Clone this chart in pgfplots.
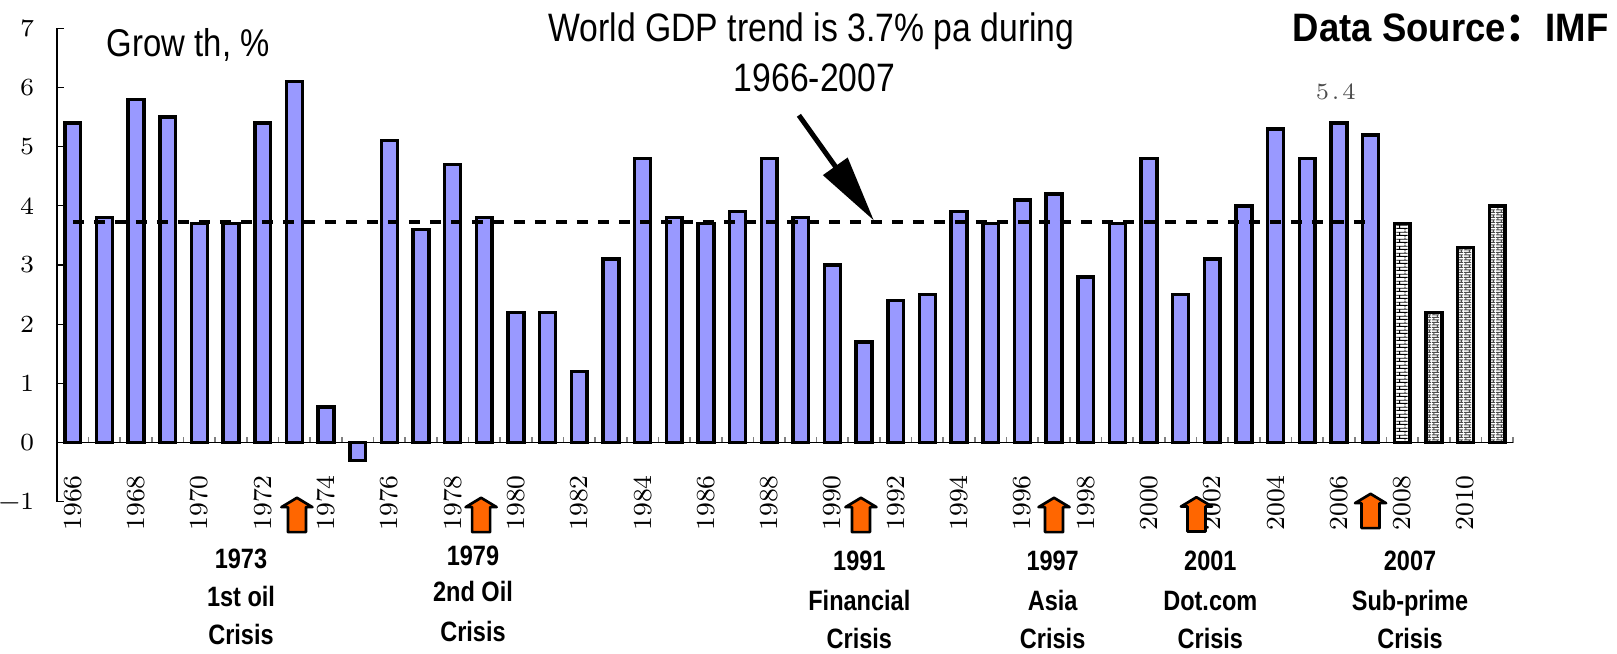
\documentclass[border=0pt]{standalone}
\usepackage{fontspec}
\setmainfont{Liberation Sans}
\newfontfamily\titlefont[FakeStretch=0.85]{Liberation Sans}
\newfontfamily\srcfont[FakeStretch=0.92]{Liberation Sans}
\newfontfamily\lblfont[FakeStretch=0.84]{Liberation Sans}
\newfontfamily\cjk{Noto Sans CJK SC}
\newfontfamily\tickfont[LetterSpace=12]{Latin Modern Roman}
\newfontfamily\tickfontY{Latin Modern Roman}
\usepackage{pgfplots}
\usepackage{pgfplotstable}
\pgfplotsset{compat=1.18}
\usetikzlibrary{patterns,arrows.meta}
\definecolor{barblue}{HTML}{9999FF}
\definecolor{crisisorange}{HTML}{FF6600}

\pgfdeclarepatternformonly{finebricks}{\pgfpointorigin}{\pgfqpoint{3.2pt}{2pt}}{\pgfqpoint{3.2pt}{2pt}}{%
  \pgfsetlinewidth{0.3pt}%
  \pgfpathmoveto{\pgfqpoint{0pt}{0.5pt}}\pgfpathlineto{\pgfqpoint{3.2pt}{0.5pt}}%
  \pgfpathmoveto{\pgfqpoint{0pt}{1.5pt}}\pgfpathlineto{\pgfqpoint{3.2pt}{1.5pt}}%
  \pgfpathmoveto{\pgfqpoint{0.8pt}{0.5pt}}\pgfpathlineto{\pgfqpoint{0.8pt}{1.5pt}}%
  \pgfpathmoveto{\pgfqpoint{2.4pt}{1.5pt}}\pgfpathlineto{\pgfqpoint{2.4pt}{2pt}}%
  \pgfpathmoveto{\pgfqpoint{2.4pt}{0pt}}\pgfpathlineto{\pgfqpoint{2.4pt}{0.5pt}}%
  \pgfusepath{stroke}}
\pgfdeclarepatternformonly{finewave}{\pgfpointorigin}{\pgfqpoint{2.4pt}{1.6pt}}{\pgfqpoint{2.4pt}{1.6pt}}{%
  \pgfsetlinewidth{0.35pt}%
  \pgfpathmoveto{\pgfqpoint{0pt}{0.4pt}}\pgfpathlineto{\pgfqpoint{2.4pt}{0.4pt}}%
  \pgfpathmoveto{\pgfqpoint{0pt}{1.2pt}}\pgfpathlineto{\pgfqpoint{2.4pt}{1.2pt}}%
  \pgfpathmoveto{\pgfqpoint{0.6pt}{0.4pt}}\pgfpathlineto{\pgfqpoint{0.6pt}{1.2pt}}%
  \pgfpathmoveto{\pgfqpoint{1.8pt}{1.2pt}}\pgfpathlineto{\pgfqpoint{1.8pt}{1.6pt}}%
  \pgfpathmoveto{\pgfqpoint{1.8pt}{0pt}}\pgfpathlineto{\pgfqpoint{1.8pt}{0.4pt}}%
  \pgfusepath{stroke}}

% x = year - 1966
\pgfplotstableread{
x year g
0 1966 5.4
1 1967 3.8
2 1968 5.8
3 1969 5.5
4 1970 3.7
5 1971 3.7
6 1972 5.4
7 1973 6.1
8 1974 0.6
9 1975 -0.3
10 1976 5.1
11 1977 3.6
12 1978 4.7
13 1979 3.8
14 1980 2.2
15 1981 2.2
16 1982 1.2
17 1983 3.1
18 1984 4.8
19 1985 3.8
20 1986 3.7
21 1987 3.9
22 1988 4.8
23 1989 3.8
24 1990 3.0
25 1991 1.7
26 1992 2.4
27 1993 2.5
28 1994 3.9
29 1995 3.7
30 1996 4.1
31 1997 4.2
32 1998 2.8
33 1999 3.7
34 2000 4.8
35 2001 2.5
36 2002 3.1
37 2003 4.0
38 2004 5.3
39 2005 4.8
40 2006 5.4
41 2007 5.2
}\hist
\pgfplotstableread{
x year g
42 2008 3.7
}\fcA
\pgfplotstableread{
x year g
43 2009 2.2
44 2010 3.3
45 2011 4.0
}\fcB

\newcommand\uparr[2]{\draw[fill=crisisorange, draw=black, line width=0.8pt, line join=round]
  (axis cs:#1,#2) -- ++(4.65pt,-2.8pt) -- ++(-1.95pt,0pt) -- ++(0pt,-7.5pt) -- ++(-5.4pt,0pt)
  -- ++(0pt,7.5pt) -- ++(-1.95pt,0pt) -- cycle;}

\begin{document}
\begin{tikzpicture}
\useasboundingbox (0pt,0pt) rectangle (485.1pt,195.9pt);
\begin{axis}[
  at={(17.1pt,45.39pt)}, anchor=south west,
  scale only axis, width=436.8pt, height=142.02pt,
  xmin=-0.5, xmax=45.5, ymin=-1, ymax=7,
  axis y line=left, axis x line=middle,
  axis line style={-, black, line width=0.5pt},
  hide obscured x ticks=false, hide obscured y ticks=false,
  clip=false,
  ybar, bar width=0.5, bar shift=0pt,
  ytick={-1,0,...,7},
  yticklabel={\pgfmathtruncatemacro\v{\tick}\ifnum\v<0 −\the\numexpr-\v\relax\else\v\fi},
  xtick={0,2,...,44},
  xticklabel={\pgfmathtruncatemacro\yr{\tick+1966}\yr},
  minor xtick={-0.5,0.5,...,45.5},
  tick align=inside,
  major tick length=2pt, minor tick length=1.6pt,
  major x tick style={draw=none},
  minor x tick style={gray, line width=0.5pt},
  ytick style={black, line width=0.4pt},
  xticklabel style={font=\tickfontY\fontsize{7.8}{9}\selectfont, black, yshift=-6.3pt, rotate=90, anchor=east},
  yticklabel style={font=\tickfontY\fontsize{7.4}{8}\selectfont, black, xshift=-3.3pt},
]
\addplot[fill=barblue, draw=black, line width=1.05pt] table[x=x,y=g] {\hist};
\addplot[pattern=finebricks, draw=black, line width=1.05pt] table[x=x,y=g] {\fcA};
\addplot[pattern=finewave, pattern color=black!70, draw=black, line width=1.05pt] table[x=x,y=g] {\fcB};
\addplot[sharp plot, black, line width=1.15pt, dash pattern=on 3.3pt off 3pt, forget plot]
  coordinates {(0,3.72) (40.85,3.72)};
\draw[line width=1.5pt, -{Triangle[length=20pt,width=8.7pt]}] (axis cs:22.94,5.53) -- (axis cs:25.31,3.75);
\node[text=black!70, font=\tickfont\fontsize{7}{8}\selectfont] at (axis cs:39.9,5.92) {5.4};
\uparr{7.08}{-0.934}
\uparr{12.9}{-0.934}
\uparr{24.9}{-0.934}
\uparr{31.0}{-0.934}
\uparr{35.5}{-0.924}
\uparr{41.0}{-0.867}
\end{axis}
% titles
\node[anchor=base, font=\titlefont\fontsize{11.9}{13}\selectfont] at (243.45pt,183.4pt) {World GDP trend is 3.7\% pa during};
\node[anchor=base, font=\titlefont\fontsize{11.9}{13}\selectfont] at (244.35pt,168.4pt) {1966-2007};
\node[anchor=base west, inner sep=0pt, font=\titlefont\fontsize{11.6}{13}\selectfont] at (31.9pt,178.9pt) {Grow th, \%};
\node[anchor=base east, inner sep=0pt, font=\srcfont\bfseries\fontsize{11.9}{13}\selectfont] at (482.7pt,183.4pt) {Data Source{\cjk\bfseries ：}IMF};
% crisis labels
\tikzset{cl/.style={anchor=base, inner sep=0pt, font=\lblfont\bfseries\fontsize{8.4}{10}\selectfont}}
\node[cl] at (72.3pt,25.5pt) {1973};
\node[cl] at (72.3pt,14.1pt) {1st oil};
\node[cl] at (72.3pt,2.7pt) {Crisis};
\node[cl] at (141.9pt,26.4pt) {1979};
\node[cl] at (141.9pt,15.4pt) {2nd Oil};
\node[cl] at (141.9pt,3.4pt) {Crisis};
\node[cl] at (257.8pt,24.7pt) {1991};
\node[cl] at (257.8pt,12.9pt) {Financial};
\node[cl] at (257.8pt,1.5pt) {Crisis};
\node[cl] at (315.8pt,24.7pt) {1997};
\node[cl] at (315.8pt,12.9pt) {Asia};
\node[cl] at (315.8pt,1.5pt) {Crisis};
\node[cl] at (363.1pt,24.7pt) {2001};
\node[cl] at (363.1pt,12.9pt) {Dot.com};
\node[cl] at (363.1pt,1.5pt) {Crisis};
\node[cl] at (423.0pt,24.7pt) {2007};
\node[cl] at (423.0pt,12.9pt) {Sub-prime};
\node[cl] at (423.0pt,1.5pt) {Crisis};
\end{tikzpicture}
\end{document}
